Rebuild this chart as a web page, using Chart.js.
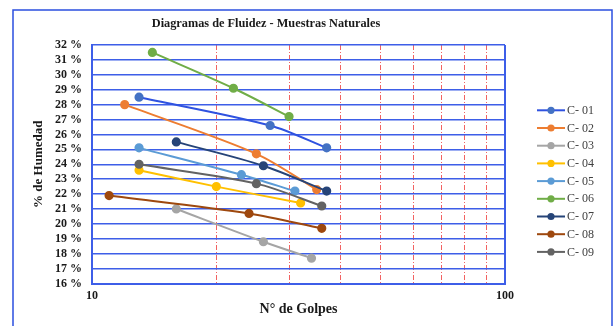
<!DOCTYPE html>
<html>
<head>
<meta charset="utf-8">
<script src="https://cdn.jsdelivr.net/npm/chart.js@4/dist/chart.umd.min.js"></script>
<style>
  html, body { margin: 0; padding: 0; background: #fff; }
  #wrap { width: 615px; height: 326px; position: relative; }
</style>
</head>
<body>
<div id="wrap"><canvas id="c" width="615" height="326"></canvas></div>
<script>
// Flow curves (número de golpes vs. contenido de humedad) for each natural sample
const sampleNames = ['C- 01', 'C- 02', 'C- 03', 'C- 04', 'C- 05', 'C- 06', 'C- 07', 'C- 08', 'C- 09'];

const golpesC01 = [13, 27, 37];   const humedadC01 = [28.5, 26.6, 25.1];
const golpesC02 = [12, 25, 35];   const humedadC02 = [28.0, 24.7, 22.3];
const golpesC03 = [16, 26, 34];   const humedadC03 = [21.0, 18.8, 17.7];
const golpesC04 = [13, 20, 32];   const humedadC04 = [23.6, 22.5, 21.4];
const golpesC05 = [13, 23, 31];   const humedadC05 = [25.1, 23.3, 22.2];
const golpesC06 = [14, 22, 30];   const humedadC06 = [31.5, 29.1, 27.2];
const golpesC07 = [16, 26, 37];   const humedadC07 = [25.5, 23.9, 22.2];
const golpesC08 = [11, 24, 36];   const humedadC08 = [21.9, 20.7, 19.7];
const golpesC09 = [13, 25, 36];   const humedadC09 = [24.0, 22.7, 21.2];

const xTickValues = [10, 20, 30, 40, 50, 60, 70, 80, 90, 100];
const xTickLabels = ['10', '100'];
const yMin = 16, yMax = 32;

const lineColors  = ['#2f52e0', '#ED7D31', '#A5A5A5', '#FFC000', '#5B9BD5', '#70AD47', '#264478', '#9E480E', '#636363'];
const pointColors = ['#4472C4', '#ED7D31', '#A5A5A5', '#FFC000', '#5B9BD5', '#70AD47', '#264478', '#9E480E', '#636363'];

const golpes  = [golpesC01, golpesC02, golpesC03, golpesC04, golpesC05, golpesC06, golpesC07, golpesC08, golpesC09];
const humedad = [humedadC01, humedadC02, humedadC03, humedadC04, humedadC05, humedadC06, humedadC07, humedadC08, humedadC09];

const SERIF = '"Liberation Serif", "Times New Roman", serif';
const GRID_BLUE = '#3d5ee8';

const datasets = sampleNames.map((name, i) => ({
  label: name,
  data: golpes[i].map((g, k) => ({ x: g, y: humedad[i][k] })),
  borderColor: lineColors[i],
  backgroundColor: pointColors[i],
  pointBackgroundColor: pointColors[i],
  pointBorderColor: pointColors[i],
  pointRadius: 3.6,
  pointHoverRadius: 3.6,
  borderWidth: 2,
  tension: 0.3,
  fill: false,
  order: -i
}));

// Title, outer frame and the side legend
const decorations = {
  id: 'decorations',
  afterDraw(chart) {
    const ctx = chart.ctx;
    ctx.save();
    ctx.strokeStyle = '#2b4fe0';
    ctx.lineWidth = 1.5;
    ctx.strokeRect(13, 10, 599, 340);

    ctx.fillStyle = '#1a1a1a';
    ctx.font = 'bold 12.3px ' + SERIF;
    ctx.textAlign = 'center';
    ctx.textBaseline = 'middle';
    ctx.fillText('Diagramas de Fluidez - Muestras Naturales', 266, 24);

    const x0 = 537, x1 = 565, top = 110.3, step = 17.7;
    ctx.font = '12px ' + SERIF;
    ctx.textAlign = 'left';
    chart.data.datasets.forEach((ds, i) => {
      const y = top + i * step;
      ctx.strokeStyle = ds.borderColor;
      ctx.lineWidth = 2;
      ctx.beginPath();
      ctx.moveTo(x0, y);
      ctx.lineTo(x1, y);
      ctx.stroke();
      ctx.fillStyle = ds.pointBackgroundColor;
      ctx.beginPath();
      ctx.arc((x0 + x1) / 2, y, 3.6, 0, Math.PI * 2);
      ctx.fill();
      ctx.fillStyle = '#404040';
      ctx.fillText(ds.label, x1 + 2, y + 0.5);
    });
    ctx.restore();
  }
};

new Chart(document.getElementById('c'), {
  type: 'line',
  data: { datasets },
  options: {
    responsive: false,
    animation: false,
    events: [],
    layout: { padding: { top: 45, right: 110, bottom: 0, left: 0 } },
    plugins: {
      legend: { display: false },
      title: { display: false },
      tooltip: { enabled: false }
    },
    scales: {
      x: {
        type: 'logarithmic',
        min: 10,
        max: 100,
        afterBuildTicks(scale) {
          scale.ticks = xTickValues.map(v => ({ value: v }));
        },
        afterFit(scale) { scale.height = 42.5; },
        ticks: {
          autoSkip: false,
          maxRotation: 0,
          padding: 5,
          color: '#1a1a1a',
          font: { family: SERIF, size: 12, weight: 'bold' },
          callback: (v) => xTickLabels.includes(String(v)) ? String(v) : ''
        },
        grid: {
          drawTicks: false,
          color: (c) => (c.tick && (c.tick.value === 10 || c.tick.value === 100)) ? GRID_BLUE : 'rgba(240,70,70,0.85)',
          lineWidth: (c) => (c.tick && (c.tick.value === 10 || c.tick.value === 100)) ? 2 : 1
        },
        border: {
          display: true,
          color: GRID_BLUE,
          width: 2,
          dash: (c) => (c.tick && (c.tick.value === 10 || c.tick.value === 100)) ? [] : [5, 2, 1, 2]
        },
        title: {
          display: true,
          text: 'N° de Golpes',
          color: '#1a1a1a',
          font: { family: SERIF, size: 14, weight: 'bold' },
          padding: { top: 0, bottom: 8 }
        }
      },
      y: {
        min: yMin,
        max: yMax,
        afterFit(scale) { scale.width = 92; },
        ticks: {
          stepSize: 1,
          autoSkip: false,
          padding: 10,
          color: '#1a1a1a',
          font: { family: SERIF, size: 12, weight: 'bold' },
          callback: (v) => v + ' %'
        },
        grid: {
          drawTicks: false,
          color: GRID_BLUE,
          lineWidth: 1.5
        },
        border: { display: true, color: GRID_BLUE, width: 2 },
        title: {
          display: true,
          text: '% de Humedad',
          color: '#1a1a1a',
          font: { family: SERIF, size: 13, weight: 'bold' },
          padding: { top: 31, bottom: 0 }
        }
      }
    }
  },
  plugins: [decorations]
});
</script>
</body>
</html>
